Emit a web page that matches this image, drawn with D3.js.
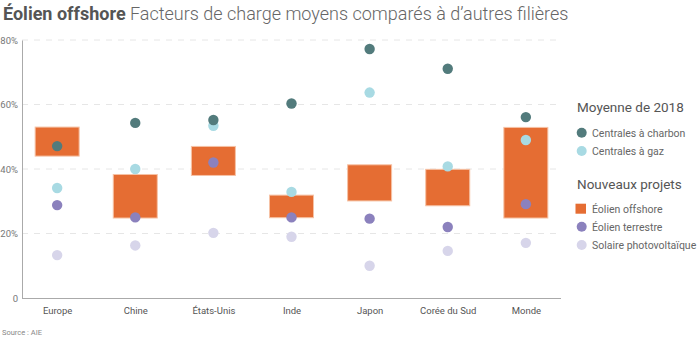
<!DOCTYPE html>
<html><head><meta charset="utf-8">
<script src="https://cdn.jsdelivr.net/npm/d3@7"></script>
<style>body{margin:0;background:#fff;font-family:Roboto,sans-serif}</style>
</head><body><svg id="c" width="700" height="338"></svg>
<script>
const categories = ["Europe","Chine","États-Unis","Inde","Japon","Corée du Sud","Monde"];
const offshoreLow  = [44.0, 24.8, 38.0, 24.9, 30.1, 28.6, 24.8];
const offshoreHigh = [53.0, 38.3, 47.0, 31.9, 41.3, 39.9, 52.9];
const coal    = [47.1, 54.3, 55.2, 60.3, 77.2, 71.1, 56.1];
const gas     = [34.1, 40.0, 53.4, 32.9, 63.7, 40.8, 49.0];
const onshore = [28.8, 25.0, 42.0, 25.0, 24.6, 22.0, 29.1];
const solar   = [13.3, 16.3, 20.2, 19.0, 10.0, 14.6, 17.1];
const yTicks = [0, 20, 40, 60, 80];

const svg = d3.select("#c");
const x = d3.scalePoint().domain(categories).range([22, 561]).padding(0.45);
const y = d3.scaleLinear().domain([0, 80]).range([298, 40]);

// grid
svg.append("g").selectAll("line").data(yTicks.filter(d=>d>0)).join("line")
  .attr("x1", 22).attr("x2", 562).attr("y1", d=>y(d)).attr("y2", d=>y(d))
  .attr("stroke", "#e6e6e6").attr("stroke-dasharray", "6,6");

// y axis
const ya = svg.append("g").attr("transform","translate(22,0)")
  .call(d3.axisLeft(y).tickValues(yTicks).tickSize(0).tickPadding(4)
    .tickFormat(d=> d===0 ? "0" : d+"%"));
ya.select(".domain").attr("stroke","#aaa");
ya.selectAll("text").attr("fill","#777").style("font-size","9.5px").style("font-family","Roboto");

// x axis
const xa = svg.append("g").attr("transform","translate(0,298)")
  .call(d3.axisBottom(x).tickSize(0).tickPadding(9));
xa.select(".domain").attr("stroke","#aaa").attr("d","M22,0.5H561");
xa.selectAll("text").attr("fill","#555").style("font-size","9.5px").style("font-family","Roboto");

// bars
const bw = 44;
svg.append("g").selectAll("rect").data(categories).join("rect")
  .attr("x", d=>x(d)-bw/2).attr("width", bw)
  .attr("y", (d,i)=>y(offshoreHigh[i]))
  .attr("height", (d,i)=>y(offshoreLow[i])-y(offshoreHigh[i]))
  .attr("fill","#e56d33").attr("stroke","#f6c2a5").attr("stroke-width",1);

const series = [
  {vals: solar, color:"#d7d5ea"},
  {vals: onshore, color:"#8b81bd"},
  {vals: gas, color:"#a8dae3"},
  {vals: coal, color:"#527b7c"}
];
series.forEach(s=>{
  svg.append("g").selectAll("circle").data(categories).join("circle")
    .attr("cx", d=>x(d)).attr("cy", (d,i)=>y(s.vals[i])).attr("r", 5.2)
    .attr("fill", s.color);
});

// title
const t = svg.append("text").attr("x",3).attr("y",20).style("font-size","18px").style("font-family","Roboto");
t.append("tspan").text("Éolien offshore").attr("font-weight","bold").attr("fill","#555");
t.append("tspan").text(" Facteurs de charge moyens comparés à d’autres filières").attr("font-weight","300").attr("fill","#666");

// legend
const lg = svg.append("g").style("font-family","Roboto");
lg.append("text").attr("x",577).attr("y",111.5).text("Moyenne de 2018").attr("fill","#555").style("font-size","13.5px");
lg.append("text").attr("x",577).attr("y",189).text("Nouveaux projets").attr("fill","#555").style("font-size","13.5px");
const items = [
  {label:"Centrales à charbon", color:"#527b7c", y:132.7, shape:"c"},
  {label:"Centrales à gaz", color:"#a8dae3", y:151, shape:"c"},
  {label:"Éolien offshore", color:"#e56d33", y:208.7, shape:"r"},
  {label:"Éolien terrestre", color:"#8b81bd", y:226.7, shape:"c"},
  {label:"Solaire photovoltaïque", color:"#d7d5ea", y:245, shape:"c"}
];
items.forEach(it=>{
  if(it.shape==="c") lg.append("circle").attr("cx",581.7).attr("cy",it.y).attr("r",5).attr("fill",it.color);
  else lg.append("rect").attr("x",575.5).attr("y",it.y-5).attr("width",10.5).attr("height",10).attr("fill",it.color);
  lg.append("text").attr("x",592).attr("y",it.y+3.8).text(it.label).attr("fill","#666").style("font-size","10.5px");
});

svg.append("text").attr("x",2).attr("y",335).text("Source : AIE").attr("fill","#888").style("font-size","7.5px").style("font-family","Roboto");
</script></body></html>
